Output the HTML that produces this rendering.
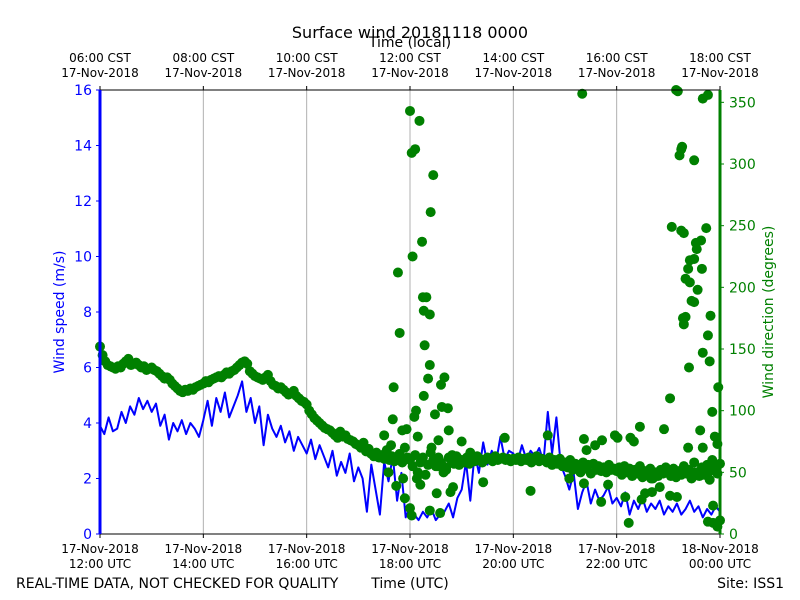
<!DOCTYPE html>
<html><head><meta charset="utf-8"><style>
body{margin:0;background:#fff;}
svg{display:block;font-family:"DejaVu Sans","Liberation Sans",sans-serif;}
</style></head><body>
<svg id="chart" width="800" height="600" viewBox="0 0 800 600" xmlns="http://www.w3.org/2000/svg"></svg>
<script>
// Wind speed (m/s), 5-minute samples from 12:00 UTC
const speedValues = [
3.9,3.6,4.2,3.7,3.8,4.4,4.0,4.6,4.3,4.9,4.5,4.8,
4.4,4.7,3.9,4.3,3.4,4.0,3.7,4.1,3.6,4.0,3.8,3.5,
4.1,4.8,3.9,4.9,4.4,5.1,4.2,4.6,5.0,5.5,4.4,4.9,
4.0,4.6,3.2,4.3,3.8,3.5,3.9,3.3,3.7,3.0,3.5,3.2,
2.9,3.4,2.7,3.2,2.8,2.4,3.0,2.1,2.6,2.2,2.9,1.9,
2.4,2.0,0.8,2.5,1.6,0.7,2.6,1.9,2.8,1.2,2.2,0.6,
1.0,0.7,0.5,0.8,0.6,0.9,0.5,0.7,0.8,1.1,0.6,1.3,
1.6,2.6,1.2,2.9,2.2,3.3,2.5,3.0,2.6,3.5,2.7,3.0,
2.9,2.6,3.2,2.7,3.0,2.8,3.1,2.6,4.4,2.9,4.2,2.5,
2.1,1.6,2.2,0.9,1.5,1.9,1.1,1.6,1.2,1.4,1.7,1.1,
1.3,1.0,1.5,0.7,1.2,0.9,1.3,0.8,1.1,0.9,1.2,0.7,
1.0,0.8,1.1,0.7,0.9,1.2,0.8,1.0,0.6,0.9,0.7,1.0,
0.8];
const speedStepMin = 5;
// Wind direction (deg), 3-minute samples from 12:00 UTC
const dirValues = [
152,145,140,137,136,135,134,136,135,138,140,142,137,138,139,137,135,136,133,134,
135,133,132,130,128,126,127,125,122,120,118,116,115,117,116,118,117,119,120,121,
122,124,123,125,126,127,128,127,129,131,130,132,133,135,137,139,140,138,132,130,
128,127,126,125,127,129,124,121,120,118,119,117,115,113,114,116,112,110,108,107,
105,100,97,94,92,90,88,86,85,84,82,80,78,83,79,80,77,76,75,73,
72,70,74,67,69,65,63,66,62,64,61,68,60,63,59,62,65,58,70,62,
60,55,64,50,58,62,48,56,66,60,55,62,58,50,54,62,60,57,63,56,
60,58,62,57,60,59,63,61,58,60,62,61,59,63,60,61,62,60,61,59,
61,60,62,59,61,60,62,58,60,63,59,61,60,58,62,56,60,57,61,55,
58,54,60,52,57,55,50,58,53,56,49,57,52,55,51,54,50,56,52,53,
51,54,48,55,50,53,47,52,49,55,46,51,48,53,45,50,47,52,49,54,
50,47,53,46,51,48,55,49,52,45,58,50,47,54,48,56,51,60,53,49,
57];
const dirStepMin = 3;
// Scattered direction observations (minutes since 12:00 UTC, degrees)
const extraDirTimes = [346,348,341,340,344,351,360,362,366,371,363,374,375,379,376,383,377,383,381,384,387,369,367,368,373,376,389,393,396,397,400,404,402,405,395,383,360,362,354,391,407,409,
560,669,671,675,676,673,690,664,675,678,685,683,690,692,693,698,704,680,685,690,687,694,699,706,700,708,678,680,677,709,700,706,711,718,717,714,662,683,697,708,712,706,712,717,720,712,
627,616,601,583,562,614,629,582,562,650,662,641,633,684,
330,335,338,352,356,365,372,385,392,410,420,430,445,470,500,520,545,565,575,590,598,610,620,640,655,670,690,700];
const extraDirValues = [212,163,119,93,39,84,343,309,312,335,225,237,192,192,181,178,153,137,126,261,291,79,100,45,59,112,97,76,121,103,127,102,52,84,17,19,21,15,29,33,34,64,
357,360,359,312,314,307,303,249,246,244,222,215,223,236,231,238,248,207,204,188,189,198,215,161,147,140,170,176,175,177,353,356,99,119,73,79,110,70,84,44,54,10,9,6,11,23,
87,78,78,76,77,9,28,26,41,38,31,34,33,135,
80,50,72,45,85,95,40,70,55,38,75,66,42,78,35,80,45,68,72,40,80,30,75,45,85,30,50,70];
const xTickHours = [12,14,16,18,20,22,24];
const xTickUTC = ["12:00 UTC","14:00 UTC","16:00 UTC","18:00 UTC","20:00 UTC","22:00 UTC","00:00 UTC"];
const xTickUTCDate = ["17-Nov-2018","17-Nov-2018","17-Nov-2018","17-Nov-2018","17-Nov-2018","17-Nov-2018","18-Nov-2018"];
const xTickCST = ["06:00 CST","08:00 CST","10:00 CST","12:00 CST","14:00 CST","16:00 CST","18:00 CST"];
const leftTicks = [0,2,4,6,8,10,12,14,16];
const rightTicks = [0,50,100,150,200,250,300,350];

const L=100,R=720,T=90,B=534;
const xOfMin = m => L + m/720*(R-L);
const xOfHour = h => xOfMin((h-12)*60);
const ySpeed = v => B - v/16*(B-T);
const yDir = d => B - d/360*(B-T);
const svg = document.getElementById('chart');
const NS='http://www.w3.org/2000/svg';
function mk(tag, attrs, parent){const e=document.createElementNS(NS,tag);for(const k in attrs)e.setAttribute(k,attrs[k]);(parent||svg).appendChild(e);return e;}
function txt(s, attrs, parent){const e=mk('text',attrs,parent);e.textContent=s;return e;}

// grid
xTickHours.forEach((h,i)=>{ if(i>0&&i<xTickHours.length-1){
  const g=mk('line',{x1:xOfHour(h),x2:xOfHour(h),y1:T,y2:B,stroke:'#b0b0b0','stroke-width':1});
  
  
}});

// speed line
let d='';
speedValues.forEach((v,i)=>{d+=(i?'L':'M')+xOfMin(i*speedStepMin).toFixed(1)+','+ySpeed(v).toFixed(1);});
const sl=mk('path',{d:d,fill:'none',stroke:'#0000ff','stroke-width':2,'stroke-linejoin':'round'});



// direction points
const gDir=mk('g',{fill:'#008000'});


dirValues.forEach((v,i)=>{
  const c=mk('circle',{cx:xOfMin(i*dirStepMin),cy:yDir(v),r:5},gDir);
  
  
});
extraDirTimes.forEach((t,i)=>{
  const c=mk('circle',{cx:xOfMin(t),cy:yDir(extraDirValues[i]),r:5},gDir);
  
  
});

// frame
const topSpine=mk('line',{x1:L,x2:R,y1:T,y2:T,stroke:'#000','stroke-width':1});


const botSpine=mk('line',{x1:L,x2:R,y1:B,y2:B,stroke:'#000','stroke-width':1});


const leftSpine=mk('line',{x1:L,x2:L,y1:T,y2:B,stroke:'#0000ff','stroke-width':3});


const rightSpine=mk('line',{x1:R,x2:R,y1:T,y2:B,stroke:'#008000','stroke-width':3});



// x ticks
xTickHours.forEach((h,i)=>{
  const x=xOfHour(h);
  mk('line',{x1:x,x2:x,y1:B,y2:B+4,stroke:'#000'});
  mk('line',{x1:x,x2:x,y1:T,y2:T-4,stroke:'#000'});
  const a=txt(xTickUTCDate[i],{x:x,y:553,'font-size':12,'text-anchor':'middle'});
  
  
  const b=txt(xTickUTC[i],{x:x,y:568,'font-size':12,'text-anchor':'middle'});
  
  
  const c=txt(xTickCST[i],{x:x,y:62,'font-size':12,'text-anchor':'middle'});
  
  
  const e=txt('17-Nov-2018',{x:x,y:77,'font-size':12,'text-anchor':'middle'});
  
  
});
leftTicks.forEach(v=>{
  const y=ySpeed(v);
  mk('line',{x1:L-4,x2:L,y1:y,y2:y,stroke:'#0000ff'});
  const t=txt(String(v),{x:L-8,y:y+5,'font-size':14,'text-anchor':'end',fill:'#0000ff'});
  
  
});
rightTicks.forEach(v=>{
  const y=yDir(v);
  mk('line',{x1:R,x2:R+4,y1:y,y2:y,stroke:'#008000'});
  const t=txt(String(v),{x:R+9,y:y+5,'font-size':14,fill:'#008000'});
  
  
});
</script>
<svg style="position:absolute;left:0;top:0" width="800" height="600">
<text x="410" y="38" font-size="16" text-anchor="middle" font-family="DejaVu Sans, sans-serif">Surface wind 20181118 0000</text>
<text x="410" y="47" font-size="14" text-anchor="middle" font-family="DejaVu Sans, sans-serif">Time (local)</text>
<text transform="translate(64,312) rotate(-90)" font-size="14" text-anchor="middle" fill="#0000ff" font-family="DejaVu Sans, sans-serif">Wind speed (m/s)</text>
<text transform="translate(773,312) rotate(-90)" font-size="14" text-anchor="middle" fill="#008000" font-family="DejaVu Sans, sans-serif">Wind direction (degrees)</text>
<text x="16" y="588" font-size="14" font-family="DejaVu Sans, sans-serif">REAL-TIME DATA, NOT CHECKED FOR QUALITY</text>
<text x="410" y="588" font-size="14" text-anchor="middle" font-family="DejaVu Sans, sans-serif">Time (UTC)</text>
<text x="784" y="588" font-size="14" text-anchor="end" font-family="DejaVu Sans, sans-serif">Site: ISS1</text>
</svg>
</body></html>
